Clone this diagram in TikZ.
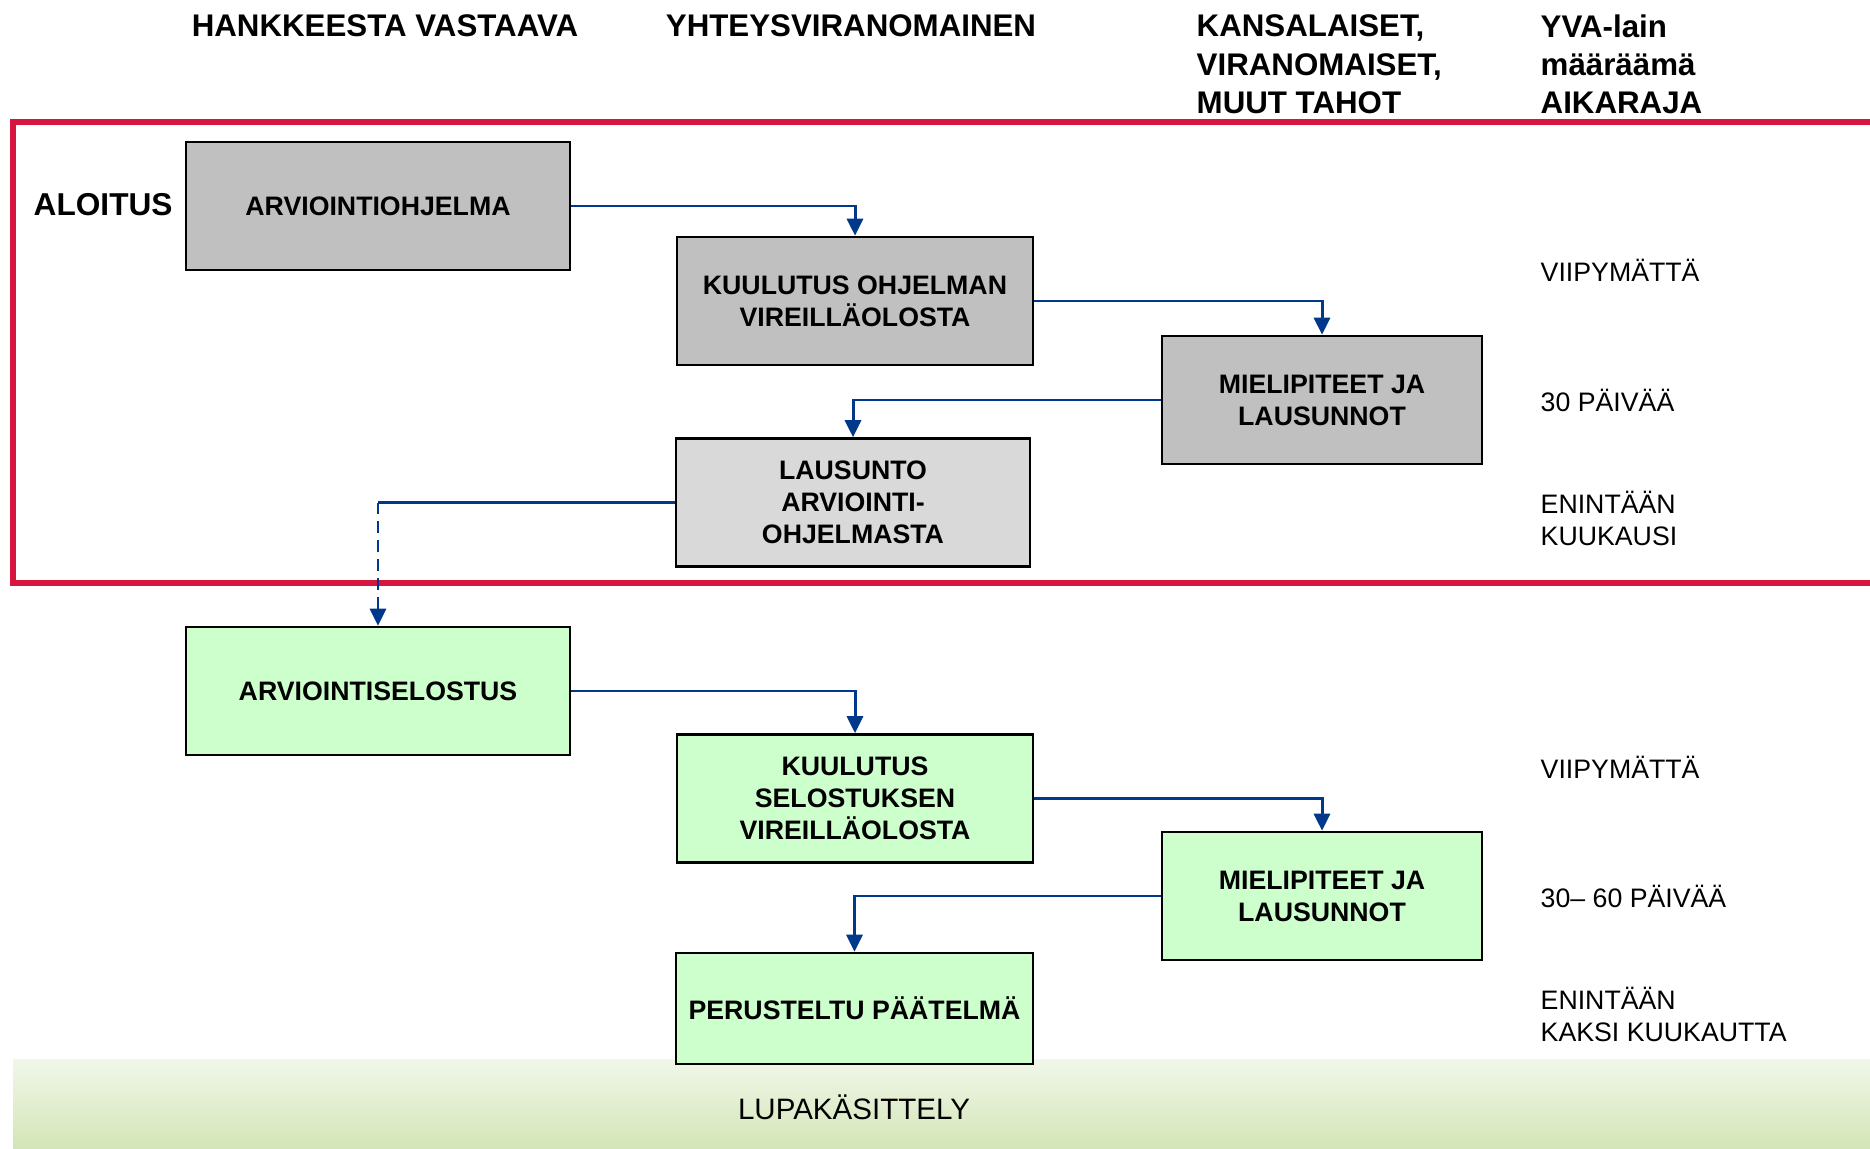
\documentclass[tikz,border=0pt]{standalone}
\usepackage{fontspec}
\setmainfont{Liberation Sans}
\usetikzlibrary{arrows.meta, positioning}
\definecolor{framered}{RGB}{214,22,62}
\definecolor{arrowblue}{RGB}{0,56,140}
\definecolor{boxgrey}{RGB}{192,192,192}
\definecolor{boxlight}{RGB}{217,217,217}
\definecolor{boxgreen}{RGB}{204,255,204}
\definecolor{bartop}{RGB}{241,247,233}
\definecolor{barbottom}{RGB}{211,229,183}
\tikzset{%
  block/.style={rectangle, draw, line width=0.75pt, align=center, font=\fontsize{7.6}{9.1}\selectfont\bfseries, minimum height=1.28cm, inner sep=1pt},
  greyblock/.style={block, fill=boxgrey},
  lightblock/.style={block, fill=boxlight},
  greenblock/.style={block, fill=boxgreen},
  header/.style={font=\fontsize{8.9}{10.9}\selectfont\bfseries, align=left, inner sep=0pt},
  timelabel/.style={font=\fontsize{7.6}{9.1}\selectfont, align=left, anchor=west, inner sep=0pt},
  line/.style={draw, arrowblue, line width=0.85pt, -{Triangle[length=1.7mm, width=1.6mm]}},
  dline/.style={line, dash pattern=on 3.2pt off 2.2pt},
  frame/.style={draw, framered, line width=1.7pt}}

\begin{document}
\begin{tikzpicture}
    \useasboundingbox (0,0) rectangle (18.7,-11.49);
    % column headers
    \node [header] (hanke) at (3.85,-0.26) {HANKKEESTA VASTAAVA};
    \node [header] (yhteys) at (8.51,-0.26) {YHTEYSVIRANOMAINEN};
    \node [header, anchor=west] (kansa) at (11.96,-0.645) {KANSALAISET,\\VIRANOMAISET,\\MUUT TAHOT};
    \node [header, anchor=west] (aikaraja) at (15.40,-0.645) {YVA-lain\\määräämä\\AIKARAJA};
    % lupakasittely bar
    \shade [top color=bartop, bottom color=barbottom] (0.13,-10.59) rectangle (18.7,-11.49);
    \node [font=\fontsize{8.4}{10}\selectfont] (lupa) at (8.54,-11.07) {LUPAKÄSITTELY};
    % aloitus frame
    \draw [frame] (18.8,-1.22) -| (0.13,-5.83) -- (18.8,-5.83);
    \node [font=\fontsize{9}{11}\selectfont\bfseries, anchor=west, inner sep=0pt] (aloitus) at (0.33,-2.05) {ALOITUS};
    % steps
    \node [greyblock, minimum width=3.84cm] (ohjelma) at (3.78,-2.06) {ARVIOINTIOHJELMA};
    \node [greyblock, minimum width=3.56cm] (kuulutusA) at (8.55,-3.01) {KUULUTUS OHJELMAN\\VIREILLÄOLOSTA};
    \node [greyblock, minimum width=3.20cm] (mielipA) at (13.22,-4.00) {MIELIPITEET JA\\LAUSUNNOT};
    \node [lightblock, minimum width=3.54cm] (lausunto) at (8.53,-5.025) {LAUSUNTO\\ARVIOINTI-\\OHJELMASTA};
    \node [greenblock, minimum width=3.84cm] (selostus) at (3.78,-6.91) {ARVIOINTISELOSTUS};
    \node [greenblock, minimum width=3.56cm] (kuulutusB) at (8.55,-7.985) {KUULUTUS\\SELOSTUKSEN\\VIREILLÄOLOSTA};
    \node [greenblock, minimum width=3.20cm] (mielipB) at (13.22,-8.96) {MIELIPITEET JA\\LAUSUNNOT};
    \node [greenblock, minimum width=3.57cm, minimum height=1.11cm] (paatelma) at (8.545,-10.085) {PERUSTELTU PÄÄTELMÄ};
    % time limits
    \node [timelabel] (aikaA) at (15.40,-2.70) {VIIPYMÄTTÄ};
    \node [timelabel] (aikaB) at (15.40,-4.00) {30 PÄIVÄÄ};
    \node [timelabel] (aikaC) at (15.40,-5.18) {ENINTÄÄN\\KUUKAUSI};
    \node [timelabel] (aikaD) at (15.40,-7.67) {VIIPYMÄTTÄ};
    \node [timelabel] (aikaE) at (15.40,-8.96) {30– 60 PÄIVÄÄ};
    \node [timelabel] (aikaF) at (15.40,-10.14) {ENINTÄÄN\\KAKSI KUUKAUTTA};
    % connectors
    \draw [line] (ohjelma.east) -| (kuulutusA.north);
    \draw [line] (kuulutusA.east) -| (mielipA.north);
    \draw [line] (mielipA.west) -| (lausunto.north);
    \coordinate (kulma) at (lausunto.west -| selostus.north);
    \draw [arrowblue, line width=0.85pt] (lausunto.west) -- (kulma);
    \draw [dline] (kulma) -- (selostus.north);
    \draw [line] (selostus.east) -| (kuulutusB.north);
    \draw [line] (kuulutusB.east) -| (mielipB.north);
    \draw [line] (mielipB.west) -| (paatelma.north);
  \end{tikzpicture}
\end{document}
